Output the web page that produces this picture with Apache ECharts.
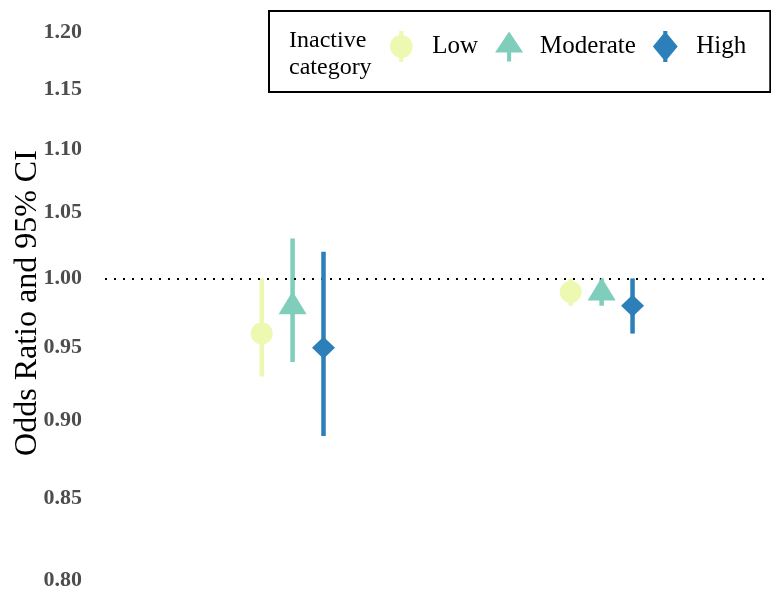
<!DOCTYPE html>
<html>
<head>
<meta charset="utf-8">
<script src="https://cdn.jsdelivr.net/npm/echarts@6/dist/echarts.min.js"></script>
<style>html,body{margin:0;padding:0;background:#fff}#c{width:771px;height:592px}</style>
</head>
<body>
<div id="c"></div>
<script>
// ---- data ----
var groupPositions = [1, 2];
var levels = ['Low', 'Moderate', 'High'];
var lowOR  = [0.96, 0.99];
var lowLo  = [0.93, 0.98];
var lowHi  = [1.00, 1.00];
var modOR  = [0.98, 0.99];
var modLo  = [0.94, 0.98];
var modHi  = [1.03, 1.00];
var highOR = [0.95, 0.98];
var highLo = [0.89, 0.96];
var highHi = [1.02, 1.00];
var yTicks = [0.80, 0.85, 0.90, 0.95, 1.00, 1.05, 1.10, 1.15, 1.20];
var refLine = 1.00;
var legendTitle = 'Inactive\ncategory';
var yTitle = 'Odds Ratio and 95% CI';

// ---- styles ----
var colors = ['#edf8b1', '#7fcdbb', '#2c7fb8'];
var dodge = [-0.1, 0, 0.1];
var symbols = ['circle', 'triangle', 'diamond'];
var symbolSizes = [[22, 22], [28, 23], [23, 22]];
var symbolOffsets = [[0, 0], [0, -3], [0, 0]];
var legendIcons = [
  'path://M9,0h4v4.2A11,11 0 0 1 13,25.8V30h-4v-4.2A11,11 0 0 1 9,4.2z',
  'path://M14,0L28,21H16V30H12V21H0z',
  'path://M10,0h4v3L24,15L14,27v3h-4v-3L0,15L10,3z'
];

var series = [];
var est = [lowOR, modOR, highOR], lo = [lowLo, modLo, highLo], hi = [lowHi, modHi, highHi];
levels.forEach(function (name, i) {
  var barData = groupPositions.map(function (g, j) { return [g + dodge[i], lo[i][j], hi[i][j]]; });
  var ptData = groupPositions.map(function (g, j) { return [g + dodge[i], est[i][j]]; });
  series.push({
    name: name, type: 'custom', z: 2 + i * 2, silent: true,
    itemStyle: { color: colors[i] },
    encode: { x: 0, y: [1, 2] },
    data: barData,
    renderItem: function (params, api) {
      var a = api.coord([api.value(0), api.value(1)]);
      var b = api.coord([api.value(0), api.value(2)]);
      return { type: 'line', shape: { x1: a[0], y1: a[1], x2: b[0], y2: b[1] },
        style: { stroke: colors[i], lineWidth: 4.5 } };
    }
  });
  series.push({
    name: name, type: 'scatter', z: 3 + i * 2, silent: true,
    symbol: symbols[i], symbolSize: symbolSizes[i], symbolOffset: symbolOffsets[i],
    itemStyle: { color: colors[i], opacity: 1 },
    data: ptData
  });
});
series[0].markLine = {
  silent: true, symbol: 'none', label: { show: false },
  lineStyle: { color: '#000', type: [2, 7], width: 2 },
  data: [{ yAxis: refLine }]
};

var chart = echarts.init(document.getElementById('c'), null, { renderer: 'canvas' });
chart.setOption({
  animation: false,
  backgroundColor: '#fff',
  grid: { left: 105, right: 0, top: 0, bottom: 0, containLabel: false, outerBoundsMode: 'none' },
  xAxis: { type: 'value', min: 0.393, max: 2.548, show: false },
  yAxis: {
    type: 'log', logBase: 10, min: 0.7929, max: 1.2288,
    name: yTitle, nameLocation: 'middle', nameRotate: 90, nameGap: 61, nameMoveOverlap: false,
    nameTextStyle: { fontFamily: 'Liberation Serif', fontSize: 32, color: '#000', padding: [0, 14, 0, 0] },
    axisLine: { show: false }, axisTick: { show: false }, splitLine: { show: false },
    axisLabel: {
      customValues: yTicks, margin: 23,
      fontFamily: 'Liberation Serif', fontWeight: 'bold', fontSize: 22, color: '#4d4d4d',
      formatter: function (v) { return Number(v).toFixed(2); }
    }
  },
  legend: {
    left: 269, top: 11, width: 420, orient: 'horizontal',
    padding: [20, 24, 30, 121], itemGap: 17,
    itemWidth: 28, itemHeight: 31,
    borderColor: '#000', borderWidth: 2,
    selectedMode: false,
    textStyle: { fontFamily: 'Liberation Serif', fontSize: 25, color: '#000', padding: [0, 0, 0, 12] },
    data: levels.map(function (n, i) { return { name: n, icon: legendIcons[i], itemStyle: { color: colors[i] } }; })
  },
  graphic: [{
    type: 'text', left: 289, top: 27,
    style: { text: legendTitle, font: '24px "Liberation Serif"', fill: '#000', lineHeight: 27 }
  }],
  series: series
});
</script>
</body>
</html>
